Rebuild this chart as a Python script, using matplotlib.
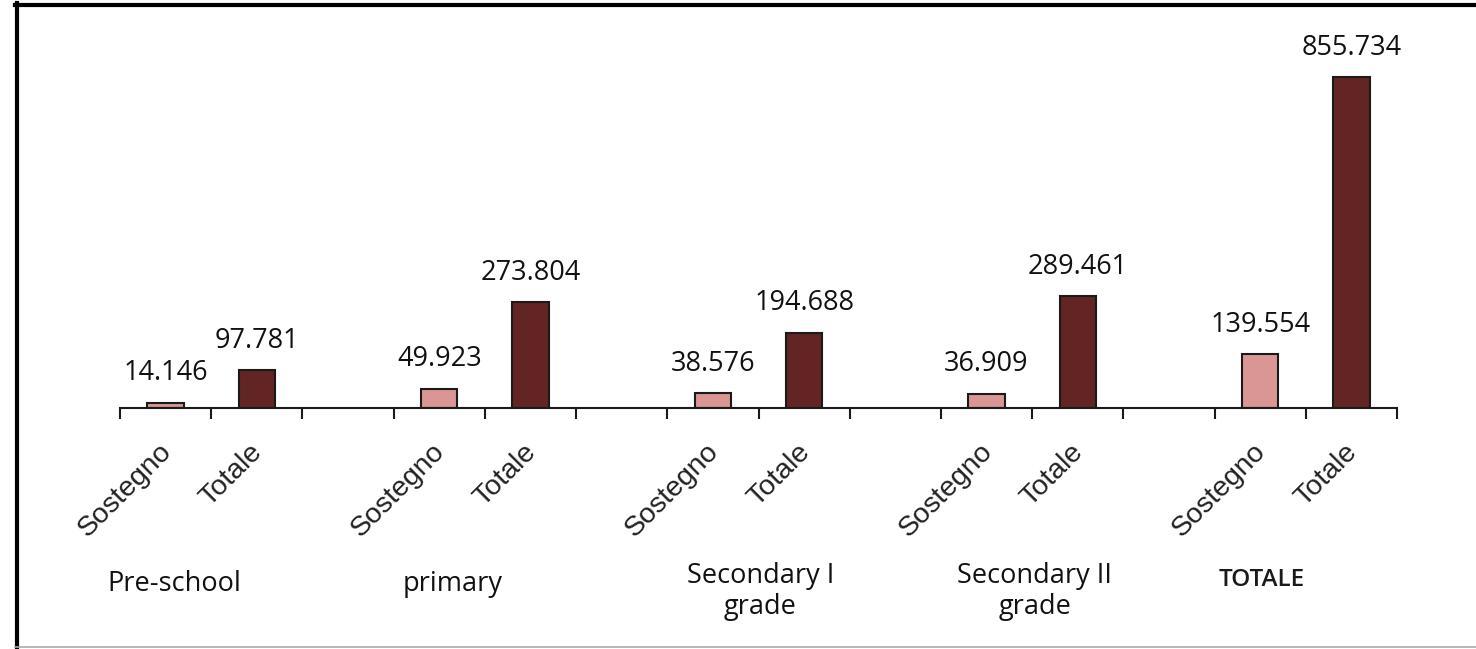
import matplotlib.pyplot as plt
import matplotlib.transforms as mtransforms
import numpy as np
from matplotlib.lines import Line2D

# data
groups = ['Pre-school', 'primary', 'Secondary I\ngrade', 'Secondary II\ngrade', 'TOTALE']
sostegno = [14.146, 49.923, 38.576, 36.909, 139.554]
totale = [97.781, 273.804, 194.688, 289.461, 855.734]
bar_labels = ['Sostegno', 'Totale']

# layout: each group uses 3 slots (Sostegno, Totale, gap)
n_slots = 3 * len(groups) - 1
group_x = [0.6, 3.65, 7.02, 10.03, 12.52]

fig = plt.figure(figsize=(14.76, 6.49), dpi=100)
ax = fig.add_axes([120 / 1476, 241 / 649, 1277 / 1476, 386.8 / 649])

x_s = np.arange(len(groups)) * 3 + 0.5
x_t = x_s + 1

ax.bar(x_s, sostegno, width=0.4, color='#D99694', edgecolor='#1a1a1a', linewidth=1.5)
ax.bar(x_t, totale, width=0.4, color='#632523', edgecolor='#1a1a1a', linewidth=1.5)

def fmt(v):
    return f'{v:,.3f}'.replace(',', '')

for xs, v in zip(list(x_s) + list(x_t), sostegno + totale):
    ax.annotate(fmt(v), (xs, v), xytext=(0, 11), textcoords='offset points',
                ha='center', va='bottom', fontsize=19.5, family='Open Sans', color='#111111')

ax.set_xlim(0, n_slots)
ax.set_ylim(0, 1000)

# boundary ticks
ax.set_xticks(np.arange(0, n_slots + 1), minor=True)
ax.tick_params(axis='x', which='minor', length=8, width=1.5, direction='out', color='#1a1a1a')

# rotated bar labels
ticks = sorted(list(x_s) + list(x_t))
ax.set_xticks(ticks)
ax.set_xticklabels(bar_labels * len(groups), rotation=45, ha='right', va='top',
                   fontsize=20.5, family='Liberation Sans', color='#222222')
ax.tick_params(axis='x', which='major', length=0, pad=22)
shift = mtransforms.ScaledTranslation(11 / 100, 0, fig.dpi_scale_trans)
for lbl in ax.get_xticklabels():
    lbl.set_transform(lbl.get_transform() + shift)

ax.set_yticks([])
for side in ['top', 'right', 'left']:
    ax.spines[side].set_visible(False)
ax.spines['bottom'].set_linewidth(1.5)
ax.spines['bottom'].set_color('#1a1a1a')

# group labels below
trans = ax.get_xaxis_transform()
for gx, g in zip(group_x, groups):
    if g == 'TOTALE':
        ax.text(gx, -0.445, g, transform=trans, ha='center', va='center',
                fontsize=17.5, family='Open Sans', fontweight='semibold', color='#1a1a1a')
    else:
        ax.text(gx, -0.455 if '\n' not in g else -0.475, g, transform=trans, ha='center', va='center',
                fontsize=19.5, family='Open Sans', color='#111111', linespacing=1.15)

# frame around the picture
fig.add_artist(Line2D([16.5 / 1476, 16.5 / 1476], [0, 1 - 3 / 649], color='black', lw=3))
fig.add_artist(Line2D([15 / 1476, 1], [1 - 4.5 / 649, 1 - 4.5 / 649], color='black', lw=3))
fig.add_artist(Line2D([15 / 1476, 1], [2 / 649, 2 / 649], color='#aaaaaa', lw=1.2))

fig.savefig('out.png', dpi=100)
